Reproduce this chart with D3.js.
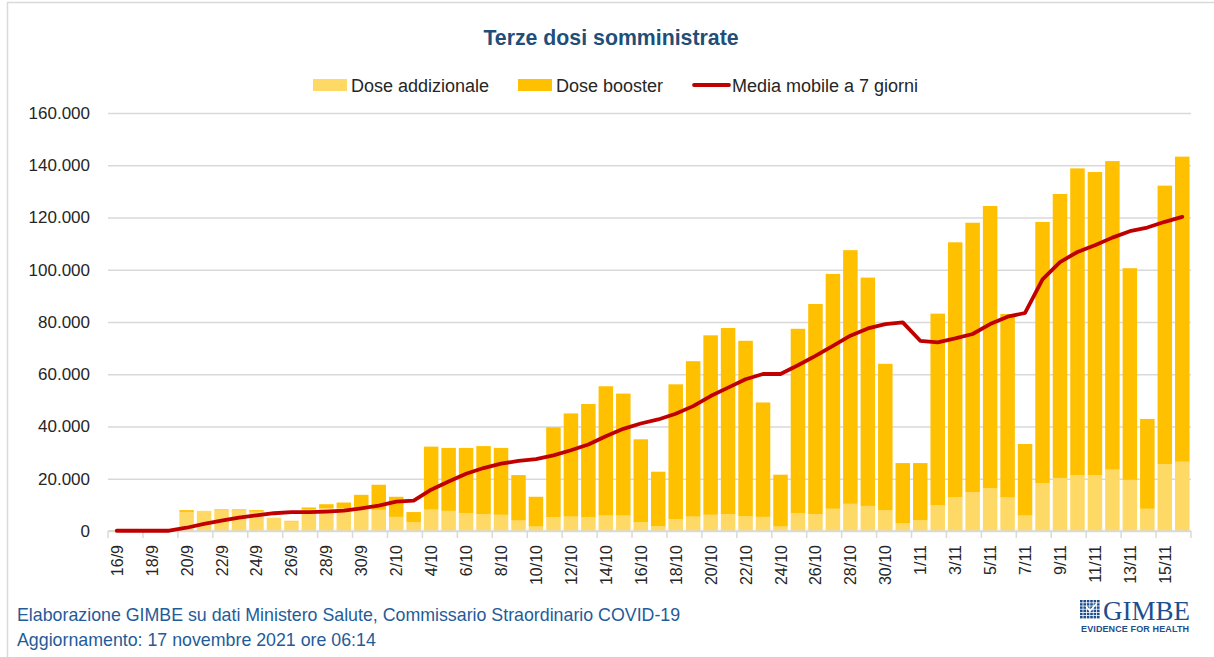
<!DOCTYPE html>
<html>
<head>
<meta charset="utf-8">
<script src="https://cdn.jsdelivr.net/npm/d3@7"></script>
<style>
  html, body { margin: 0; padding: 0; background: #fff; }
  svg { display: block; font-family: "Liberation Sans", Arial, sans-serif; }
</style>
</head>
<body>
<svg id="chart" width="1214" height="657"></svg>
<script>
// Terze dosi somministrate, 16/9 to 16/11/2021
var dates = ["16/9","17/9","18/9","19/9","20/9","21/9","22/9","23/9","24/9","25/9",
  "26/9","27/9","28/9","29/9","30/9","1/10","2/10","3/10","4/10","5/10",
  "6/10","7/10","8/10","9/10","10/10","11/10","12/10","13/10","14/10","15/10",
  "16/10","17/10","18/10","19/10","20/10","21/10","22/10","23/10","24/10","25/10",
  "26/10","27/10","28/10","29/10","30/10","31/10","1/11","2/11","3/11","4/11",
  "5/11","6/11","7/11","8/11","9/11","10/11","11/11","12/11","13/11","14/11",
  "15/11","16/11"];

var addizionale = [200, 0, 0, 0, 7300, 7600, 7900, 7900, 7400, 5100,
  3600, 8400, 8700, 8800, 9100, 8100, 5400, 3300, 8200, 7700,
  6900, 6500, 6200, 4000, 1700, 5300, 5500, 5300, 5900, 5900,
  3300, 1900, 4600, 5500, 6200, 6500, 5600, 5400, 1700, 6900,
  6500, 8500, 10400, 9600, 7900, 2900, 4200, 9800, 13000, 14900,
  16300, 12800, 5900, 18300, 20300, 21300, 21300, 23500, 19600, 8500,
  25500, 26500];

var booster = [100, 0, 0, 0, 700, 100, 400, 400, 600, 0,
  300, 600, 1550, 2100, 4750, 9600, 7700, 3950, 24100, 24100,
  24900, 26000, 25600, 17400, 11400, 34400, 39500, 43300, 49500, 46700,
  31800, 20800, 51550, 59500, 68700, 71200, 67200, 43800, 19850, 70500,
  80400, 89900, 97100, 87400, 56100, 23100, 21800, 73400, 97500, 103100,
  108100, 70250, 27400, 100000, 108700, 117500, 116100, 118100, 81000, 34400,
  106700, 116800];

var media7 = [100, 100, 100, 100, 1250, 2700, 3950, 5100, 6000, 6800,
  7200, 7200, 7450, 7800, 8700, 9750, 11250, 11600, 15800, 18950,
  21900, 24100, 25800, 26800, 27550, 28950, 30900, 33100, 36300, 39100,
  41150, 42700, 44900, 47800, 51650, 54870, 58100, 60100, 60100, 63450,
  67050, 70900, 74750, 77550, 79200, 79850, 72800, 72200, 73700, 75400,
  79200, 82050, 83450, 96300, 102950, 106800, 109350, 112300, 114750, 116150,
  118350, 120250];

var yTicks = [0, 20000, 40000, 60000, 80000, 100000, 120000, 140000, 160000];
var seriesNames = ["Dose addizionale", "Dose booster", "Media mobile a 7 giorni"];

(function () {
  "use strict";

  var COL = { add: "#FFD966", boost: "#FFC000", line: "#C00000",
              grid: "#D9D9D9", text: "#262626", title: "#1F4E79", foot: "#1F5C99" };
  var M = { l: 108, r: 1191, t: 113, b: 531 };

  var svg = d3.select("#chart");

  // chart frame (Excel border, partly cut off)
  svg.append("rect").attr("x", 7.5).attr("y", 2.5).attr("width", 1300).attr("height", 700)
    .attr("fill", "none").attr("stroke", "#D9D9D9").attr("stroke-width", 1.5);

  var x = d3.scaleBand().domain(dates).range([M.l, M.r])
    .paddingInner(0.17).paddingOuter(0.085);
  var y = d3.scaleLinear().domain([0, 160000]).range([M.b, M.t]);
  var fmt = function (v) { return d3.format(",")(v).replace(/,/g, "."); };

  // gridlines + y labels
  var gy = svg.append("g").attr("transform", "translate(" + M.l + ",0)")
    .call(d3.axisLeft(y).tickValues(yTicks).tickSize(-(M.r - M.l)).tickPadding(18).tickFormat(fmt));
  gy.select(".domain").remove();
  gy.selectAll(".tick line").attr("stroke", COL.grid).attr("stroke-width", 1.5);
  gy.selectAll(".tick text").attr("fill", COL.text).style("font-size", "17px")
    .style("font-family", "'Liberation Sans', Arial, sans-serif");

  // stacked bars
  var rows = dates.map(function (d, i) { return { d: d, a: addizionale[i], b: booster[i] }; });
  var gBars = svg.append("g");
  gBars.selectAll("rect.add").data(rows).enter().append("rect")
    .attr("class", "add")
    .attr("x", function (r) { return x(r.d); })
    .attr("width", x.bandwidth())
    .attr("y", function (r) { return y(r.a); })
    .attr("height", function (r) { return y(0) - y(r.a); })
    .attr("fill", COL.add);
  gBars.selectAll("rect.boost").data(rows).enter().append("rect")
    .attr("class", "boost")
    .attr("x", function (r) { return x(r.d); })
    .attr("width", x.bandwidth())
    .attr("y", function (r) { return y(r.a + r.b); })
    .attr("height", function (r) { return y(r.a) - y(r.a + r.b); })
    .attr("fill", COL.boost);

  // x axis: baseline, ticks on category boundaries every 2 days, rotated labels
  var step = x.step();
  var gx = svg.append("g");
  gx.append("line").attr("x1", M.l).attr("x2", M.r).attr("y1", y(0)).attr("y2", y(0))
    .attr("stroke", COL.grid).attr("stroke-width", 1.5);
  var bounds = d3.range(0, dates.length + 1, 2).concat(dates.length % 2 ? [dates.length] : []);
  gx.selectAll("line.tk").data(bounds).enter().append("line").attr("class", "tk")
    .attr("x1", function (i) { return M.l + i * step; })
    .attr("x2", function (i) { return M.l + i * step; })
    .attr("y1", y(0)).attr("y2", y(0) + 7)
    .attr("stroke", COL.grid).attr("stroke-width", 1.5);
  var labelDates = dates.filter(function (d, i) { return i % 2 === 0; });
  gx.selectAll("text").data(labelDates).enter().append("text")
    .attr("transform", function (d) {
      return "translate(" + (x(d) + x.bandwidth() / 2 + 6) + "," + (y(0) + 14) + ") rotate(-90)";
    })
    .attr("text-anchor", "end").attr("fill", COL.text)
    .style("font-size", "16px").text(function (d) { return d; });

  // 7-day moving average
  var line = d3.line()
    .x(function (v, i) { return x(dates[i]) + x.bandwidth() / 2; })
    .y(function (v) { return y(v); });
  svg.append("path").datum(media7).attr("d", line)
    .attr("fill", "none").attr("stroke", COL.line).attr("stroke-width", 3.8)
    .attr("stroke-linejoin", "round").attr("stroke-linecap", "round");

  // title
  svg.append("text").attr("x", 611).attr("y", 45).attr("text-anchor", "middle")
    .attr("fill", COL.title).style("font-size", "21.3px").style("font-weight", "bold")
    .text("Terze dosi somministrate");

  // legend
  var lg = svg.append("g").attr("transform", "translate(0,85)");
  var legItems = [
    { name: seriesNames[0], kind: "rect", color: COL.add, x: 313 },
    { name: seriesNames[1], kind: "rect", color: COL.boost, x: 518 },
    { name: seriesNames[2], kind: "line", color: COL.line, x: 694 }
  ];
  legItems.forEach(function (it) {
    if (it.kind === "rect") {
      lg.append("rect").attr("x", it.x).attr("y", -6).attr("width", 34).attr("height", 12)
        .attr("fill", it.color);
    } else {
      lg.append("line").attr("x1", it.x).attr("x2", it.x + 35).attr("y1", 0).attr("y2", 0)
        .attr("stroke", it.color).attr("stroke-width", 3.8).attr("stroke-linecap", "round");
    }
    lg.append("text").attr("x", it.x + 38).attr("y", 6.5).attr("fill", COL.text)
      .style("font-size", "18px").text(it.name);
  });

  // footer
  svg.append("text").attr("x", 17).attr("y", 621).attr("fill", COL.foot)
    .style("font-size", "17.8px")
    .text("Elaborazione GIMBE su dati Ministero Salute, Commissario Straordinario COVID-19");
  svg.append("text").attr("x", 17).attr("y", 646).attr("fill", COL.foot)
    .style("font-size", "17.8px")
    .text("Aggiornamento: 17 novembre 2021 ore 06:14");

  // GIMBE logo
  var logo = svg.append("g").attr("transform", "translate(1080,600)");
  var cells = d3.range(36);
  logo.selectAll("rect").data(cells).enter().append("rect")
    .attr("x", function (k) { return (k % 6) * 3.4; })
    .attr("y", function (k) { return Math.floor(k / 6) * 3.2; })
    .attr("width", 2.6).attr("height", 2.4).attr("fill", "#1F4E8C");
  logo.append("path").attr("d", "M6,6 L10,11 L17,3").attr("fill", "none")
    .attr("stroke", "#fff").attr("stroke-width", 1.6);
  logo.append("text").attr("x", 23).attr("y", 20).attr("fill", "#1F4E8C")
    .style("font-family", "'Liberation Serif', 'DejaVu Serif', serif")
    .style("font-size", "27px").attr("textLength", 87).attr("lengthAdjust", "spacingAndGlyphs")
    .text("GIMBE");
  logo.append("text").attr("x", 1).attr("y", 32).attr("fill", "#1F4E8C")
    .style("font-size", "9px").style("font-weight", "bold")
    .attr("textLength", 108).attr("lengthAdjust", "spacing")
    .text("EVIDENCE FOR HEALTH");
})();
</script>
</body>
</html>
